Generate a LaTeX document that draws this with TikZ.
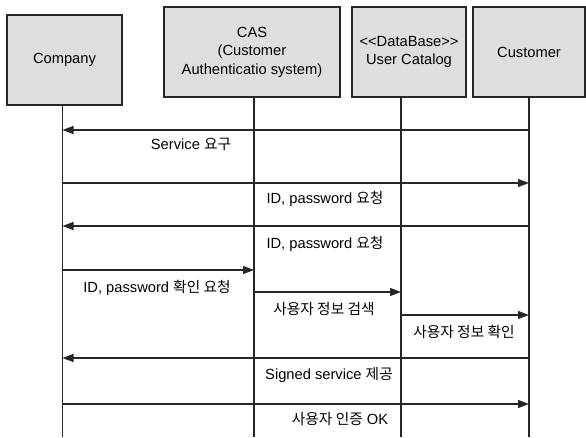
\documentclass[tikz,border=0pt]{standalone}
\usepackage{fontspec}
\setmainfont{Liberation Sans}
\newfontfamily\kr{Noto Sans CJK KR}
\usetikzlibrary{arrows.meta}
\begin{document}
\begin{tikzpicture}[x=1pt,y=-1pt,
  font=\fontsize{14.7}{18.5}\selectfont,
  actor/.style={draw=black!85,line width=1.3pt,fill=black!13,minimum height=90pt,inner sep=0pt,align=center,text=black},
  life/.style={draw=black!85,line width=1.1pt},
  msg/.style={draw=black!85,line width=1.1pt,-{Triangle[length=11pt,width=8pt]}},
  lbl/.style={inner sep=0pt,text=black}]
\useasboundingbox (0,0) rectangle (586,437);
% actors
\node[actor,minimum width=115pt] (comp) at (64.5,60) {Company};
\node[actor,minimum width=176pt] (cas) at (252,52) {CAS\\(Customer\\Authenticatio system)};
\node[actor,minimum width=114pt] (db) at (409,52) {<\kern0pt<DataBase>\kern0pt>\\User Catalog};
\node[actor,minimum width=112pt] (cust) at (529,52) {Customer};
% lifeline anchors
\coordinate (lA) at (62.5,105);
\coordinate (lB) at (254,97);
\coordinate (lC) at (401,97);
\coordinate (lD) at (529,97);
\coordinate (eA) at (62.5,437);
\coordinate (eB) at (254,437);
\coordinate (eC) at (401,437);
\coordinate (eD) at (529,437);
\draw[life] (lA) -- (eA);
\draw[life] (lB) -- (eB);
\draw[life] (lC) -- (eC);
\draw[life] (lD) -- (eD);
% messages
\draw[msg] (lD |- 0,130) -- (lA |- 0,130);
\node[lbl] (m1) at (191,144) {Service {\kr 요구}};
\draw[msg] (lA |- 0,183) -- (lD |- 0,183);
\node[lbl] (m2) at (325,199) {ID, password {\kr 요청}};
\draw[msg] (lD |- 0,226) -- (lA |- 0,226);
\node[lbl] (m3) at (325,244) {ID, password {\kr 요청}};
\draw[msg] (lA |- 0,270) -- (lB |- 0,270);
\node[lbl] (m4) at (157,288) {ID, password {\kr 확인 요청}};
\draw[msg] (lB |- 0,292) -- (lC |- 0,292);
\node[lbl] (m5) at (324,309) {\kr 사용자 정보 검색};
\draw[msg] (lC |- 0,315) -- (lD |- 0,315);
\node[lbl] (m6) at (464,332) {\kr 사용자 정보 확인};
\draw[msg] (lD |- 0,358) -- (lA |- 0,358);
\node[lbl] (m7) at (329,375) {Signed service {\kr 제공}};
\draw[msg] (lA |- 0,404) -- (lD |- 0,404);
\node[lbl] (m8) at (340,419) {{\kr 사용자 인증} OK};
\end{tikzpicture}
\end{document}
